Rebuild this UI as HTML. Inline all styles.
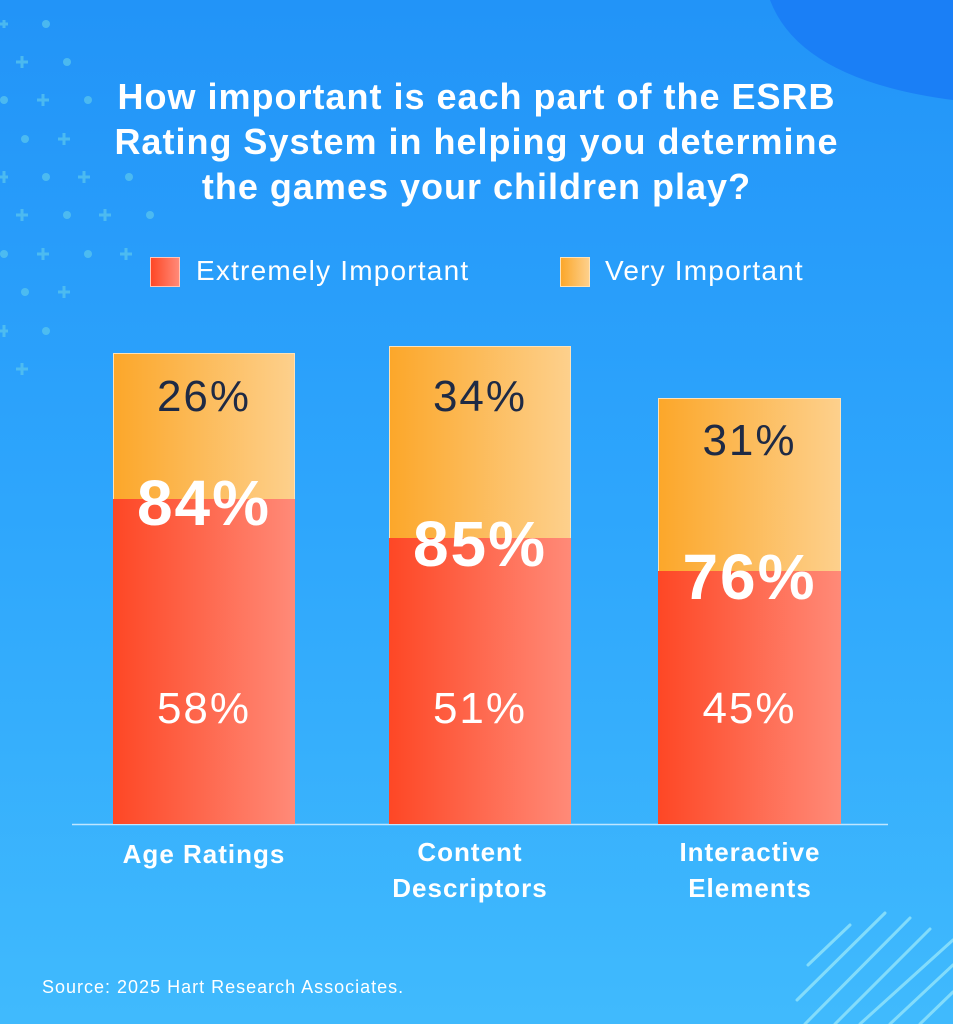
<!DOCTYPE html>
<html><head><style>
body{margin:0;width:953px;height:1024px;overflow:hidden;font-family:"Liberation Sans",sans-serif}
.bg{position:absolute;inset:0;width:953px;height:1024px;background:linear-gradient(180deg,#2294f8 0%,#2ea6fc 50%,#40bafd 100%);overflow:hidden}
.t{position:absolute;white-space:nowrap;color:#fff}
.bar{position:absolute}
.top{background:linear-gradient(90deg,#fca72a,#fdd08c);border:1px solid #fde2b8;box-sizing:border-box}
.bot{background:linear-gradient(90deg,#fe4725,#ff8a78)}
.p{font-size:44px;letter-spacing:2px}
.b{font-size:64px;font-weight:bold;letter-spacing:2px}
</style></head><body><div class="bg">
<svg width="953" height="1024" style="position:absolute;left:0;top:0">
<path d="M770 0 Q800 80 953 100 L953 0 Z" fill="#1a7ff6"/>
<g fill="#5cc8ee" opacity="0.7">
<circle cx="46" cy="24" r="4"/><circle cx="67" cy="62" r="4"/><circle cx="4" cy="100" r="4"/><circle cx="88" cy="100" r="4"/><circle cx="25" cy="139" r="4"/><circle cx="46" cy="177" r="4"/><circle cx="129" cy="177" r="4"/><circle cx="67" cy="215" r="4"/><circle cx="150" cy="215" r="4"/><circle cx="4" cy="254" r="4"/><circle cx="88" cy="254" r="4"/><circle cx="25" cy="292" r="4"/><circle cx="46" cy="331" r="4"/>
</g>
<g stroke="#5cc8ee" stroke-width="3" opacity="0.7">
<path d="M0 24h8M4 20v8"/><path d="M16 62h12M22 56v12"/><path d="M37 100h12M43 94v12"/><path d="M58 139h12M64 133v12"/><path d="M0 177h8M4 171v12"/><path d="M78 177h12M84 171v12"/><path d="M16 215h12M22 209v12"/><path d="M99 215h12M105 209v12"/><path d="M37 254h12M43 248v12"/><path d="M120 254h12M126 248v12"/><path d="M58 292h12M64 286v12"/><path d="M0 331h8M4 325v12"/><path d="M16 369h12M22 363v12"/>
</g>
<g stroke="#8fe3fb" stroke-width="3" stroke-linecap="round" opacity="0.85">
<path d="M808 965 L850 925"/><path d="M797 1000 L885 913"/><path d="M805 1024 L910 918"/><path d="M835 1024 L930 929"/><path d="M860 1024 L953 940"/><path d="M890 1024 L953 965"/><path d="M920 1024 L953 992"/>
</g>
<line x1="72" y1="824.5" x2="888" y2="824.5" stroke="#bfe6ff" stroke-width="1.5"/>
</svg>
<div class="t" style="left:0;width:953px;text-align:center;top:74px;font-size:36px;letter-spacing:1px;font-weight:bold;line-height:45px">How important is each part of the ESRB<br>Rating System in helping you determine<br>the games your children play?</div>
<div style="position:absolute;left:150px;top:257px;width:30px;height:30px;background:linear-gradient(90deg,#fe4725,#ff8a78);border:1px solid #ffc4b8;box-sizing:border-box"></div>
<div class="t" style="left:196px;top:255px;font-size:28px;letter-spacing:1.2px">Extremely Important</div>
<div style="position:absolute;left:560px;top:257px;width:30px;height:30px;background:linear-gradient(90deg,#fca72a,#fdd08c);border:1px solid #fde2b8;box-sizing:border-box"></div>
<div class="t" style="left:605px;top:255px;font-size:28px;letter-spacing:1.2px">Very Important</div>

<div class="bar top" style="left:113px;top:353px;width:182px;height:147px"></div>
<div class="bar bot" style="left:113px;top:499px;width:182px;height:325px"></div>
<div class="bar top" style="left:389px;top:346px;width:182px;height:193px"></div>
<div class="bar bot" style="left:389px;top:538px;width:182px;height:286px"></div>
<div class="bar top" style="left:658px;top:398px;width:183px;height:174px"></div>
<div class="bar bot" style="left:658px;top:571px;width:183px;height:253px"></div>

<div class="t p" style="left:113px;width:182px;text-align:center;top:372px;color:#1e2a45">26%</div>
<div class="t p" style="left:389px;width:182px;text-align:center;top:372px;color:#1e2a45">34%</div>
<div class="t p" style="left:658px;width:183px;text-align:center;top:416px;color:#1e2a45">31%</div>
<div class="t b" style="left:113px;width:182px;text-align:center;top:466px">84%</div>
<div class="t b" style="left:389px;width:182px;text-align:center;top:507px">85%</div>
<div class="t b" style="left:658px;width:183px;text-align:center;top:540px">76%</div>
<div class="t p" style="left:113px;width:182px;text-align:center;top:684px">58%</div>
<div class="t p" style="left:389px;width:182px;text-align:center;top:684px">51%</div>
<div class="t p" style="left:658px;width:183px;text-align:center;top:684px">45%</div>

<div class="t" style="left:94px;width:220px;text-align:center;top:836px;font-size:26px;letter-spacing:1px;font-weight:bold;line-height:36px">Age Ratings</div>
<div class="t" style="left:360px;width:220px;text-align:center;top:834px;font-size:26px;letter-spacing:1px;font-weight:bold;line-height:36px">Content<br>Descriptors</div>
<div class="t" style="left:640px;width:220px;text-align:center;top:834px;font-size:26px;letter-spacing:1px;font-weight:bold;line-height:36px">Interactive<br>Elements</div>
<div class="t" style="left:42px;top:977px;font-size:18px;letter-spacing:1px">Source: 2025 Hart Research Associates.</div>
</div></body></html>
